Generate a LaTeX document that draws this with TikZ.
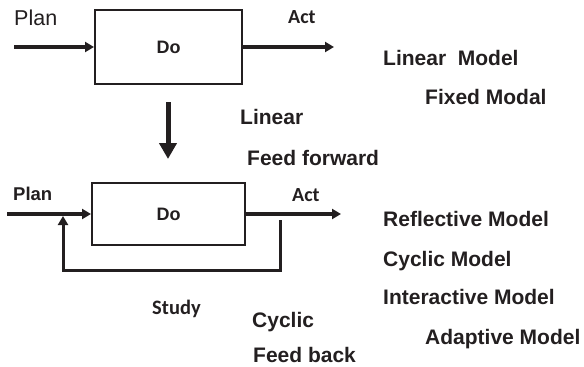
\documentclass[tikz,border=0pt]{standalone}
\usepackage{fontspec}
\setmainfont{Liberation Sans}
\newfontfamily\carlfont{Carlito}
\usetikzlibrary{arrows.meta}
\definecolor{ink}{HTML}{231F20}
\tikzset{
  lbl/.style={anchor=west, inner sep=0pt, text height=15pt, text depth=0pt, text=ink, font=\fontsize{21}{25}\selectfont\bfseries},
  lblc/.style={lbl, text height=13.5pt, font=\fontsize{20.5}{25}\selectfont\carlfont\bfseries},
  boxx/.style={draw=ink, line width=2pt, inner sep=0pt, font=\fontsize{18}{22}\selectfont\bfseries, text=ink},
  flow/.style={draw=ink, line width=4pt, -{Triangle[width=10pt,length=9pt]}},
  bigflow/.style={draw=ink, line width=5pt, -{Triangle[width=17pt,length=16pt]}},
  fback/.style={draw=ink, line width=3pt, -{Triangle[width=10pt,length=9pt]}}
}
\begin{document}
\begin{tikzpicture}[x=1pt,y=-1pt]
\useasboundingbox (0,0) rectangle (584,367);
% top
\node[boxx, minimum width=147pt, minimum height=74pt] (do1) at (168.5,47) {Do};
\node[lbl, font=\fontsize{21.5}{25}\selectfont] (plan1) at (14,18) {Plan};
\node[lblc, font=\fontsize{20}{25}\selectfont\carlfont\bfseries] (act1) at (288,17) {Act};
\coordinate (in1) at (14,47);
\coordinate (out1) at (334,47);
\draw[flow] (in1) -- (do1.west);
\draw[flow] (do1.east) -- (out1);
% down arrow
\coordinate (d1) at (168,102);
\coordinate (d2) at (168,159);
\draw[bigflow] (d1) -- (d2);
\node[lbl] (lin) at (240,117) {Linear};
\node[lbl] (ff) at (247,158) {Feed forward};
% bottom
\node[boxx, minimum width=153pt, minimum height=62pt] (do2) at (168.5,214) {Do};
\node[lbl, text height=13.3pt, font=\fontsize{18.5}{22}\selectfont\bfseries] (plan2) at (13,194) {Plan};
\node[lblc, font=\fontsize{20}{25}\selectfont\carlfont\bfseries] (act2) at (292,195) {Act};
\coordinate (in2) at (7,214);
\coordinate (out2) at (341,214);
\draw[flow] (in2) -- (do2.west);
\draw[flow] (do2.east) -- (out2);
\coordinate (fb1) at (280,220);
\coordinate (fb2) at (280,270);
\coordinate (fb3) at (63,270);
\coordinate (fb4) at (63,216);
\draw[fback] (fb1) -- (fb2) -- (fb3) -- (fb4);
\node[lblc] (study) at (152,308) {Study};
\node[lbl] (cyc) at (252,320) {Cyclic};
\node[lbl] (fb) at (253,355) {Feed back};
% right column
\node[lbl] (m1) at (383,58) {Linear\ \ Model};
\node[lbl] (m2) at (425,97) {Fixed Modal};
\node[lbl] (m3) at (383,219) {Reflective Model};
\node[lbl] (m4) at (383,259) {Cyclic Model};
\node[lbl] (m5) at (383,297) {Interactive Model};
\node[lbl] (m6) at (425,337) {Adaptive Model};
\end{tikzpicture}
\end{document}
